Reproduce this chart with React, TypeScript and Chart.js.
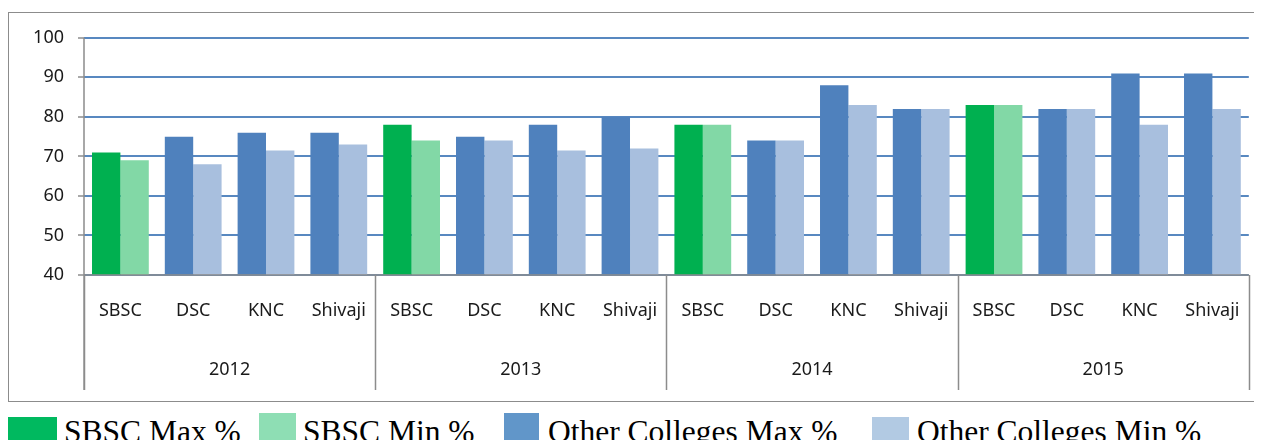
import React, { useEffect, useRef } from 'react';
import { Chart, registerables } from 'chart.js';

Chart.register(...registerables);

const years = ['2012', '2013', '2014', '2015'];
const colleges = ['SBSC', 'DSC', 'KNC', 'Shivaji'];
const sbscMax = [71, 78, 78, 83];
const sbscMin = [69, 74, 78, 83];
const dscMax = [75, 75, 74, 82];
const dscMin = [68, 74, 74, 82];
const kncMax = [76, 78, 88, 91];
const kncMin = [71.5, 71.5, 83, 78];
const shivajiMax = [76, 80, 82, 91];
const shivajiMin = [73, 72, 82, 82];
const yTicks = [40, 50, 60, 70, 80, 90, 100];
const legendLabels = ['SBSC Max %', 'SBSC Min %', 'Other Colleges Max %', 'Other Colleges Min %'];

const barColors = ['#00B050', '#82D8A6', '#4F81BD', '#A8BFDE'];
const legendColors = ['#00B95F', '#8EDEB4', '#6196C9', '#B2CAE3'];

const categoryLabels: string[] = [];
years.forEach(() => colleges.forEach((c) => categoryLabels.push(c)));

function sbscSeries(vals: number[]) {
  const out: (number | null)[] = [];
  years.forEach((_, i) => out.push(vals[i], null, null, null));
  return out;
}
function otherSeries(a: number[], b: number[], c: number[]) {
  const out: (number | null)[] = [];
  years.forEach((_, i) => out.push(null, a[i], b[i], c[i]));
  return out;
}

const AXIS_GRAY = '#8c8c8c';

const separatorPlugin = {
  id: 'separators',
  afterDraw(chart: any) {
    const { ctx, chartArea } = chart;
    const x = chart.scales.x;
    const step = x.getPixelForValue(1) - x.getPixelForValue(0);
    const bottom = chart.height - 11;
    ctx.save();
    ctx.strokeStyle = AXIS_GRAY;
    ctx.lineWidth = 1.5;
    ctx.beginPath();
    ctx.moveTo(chartArea.left, chartArea.bottom);
    ctx.lineTo(chartArea.right, chartArea.bottom);
    ctx.moveTo(chartArea.left, chartArea.top);
    ctx.lineTo(chartArea.left, bottom);
    for (let i = 0; i <= years.length; i++) {
      const px = Math.round(x.getPixelForValue(i * colleges.length) - step / 2) + 0.5;
      ctx.moveTo(px, chartArea.bottom);
      ctx.lineTo(px, bottom);
    }
    ctx.stroke();
    ctx.restore();
  },
};

function ChartBox() {
  const ref = useRef<HTMLCanvasElement>(null);
  useEffect(() => {
    if (!ref.current) return;
    const font = { family: '"Noto Sans", sans-serif', size: 18 };
    const chart = new Chart(ref.current, {
      type: 'bar',
      data: {
        labels: categoryLabels,
        datasets: [
          { label: legendLabels[0], data: sbscSeries(sbscMax), backgroundColor: barColors[0], stack: 'max' },
          { label: legendLabels[1], data: sbscSeries(sbscMin), backgroundColor: barColors[1], stack: 'min' },
          { label: legendLabels[2], data: otherSeries(dscMax, kncMax, shivajiMax), backgroundColor: barColors[2], stack: 'max' },
          { label: legendLabels[3], data: otherSeries(dscMin, kncMin, shivajiMin), backgroundColor: barColors[3], stack: 'min' },
        ],
      },
      options: {
        animation: false,
        responsive: false,
        maintainAspectRatio: false,
        events: [],
        categoryPercentage: 0.78,
        barPercentage: 1,
        layout: { padding: { top: 22, right: 16, left: 0, bottom: 0 } },
        plugins: { legend: { display: false }, tooltip: { enabled: false } },
        scales: {
          y: {
            min: 40,
            max: 100,
            z: 1,
            afterFit: (s: any) => { s.width = 75; },
            afterBuildTicks: (s: any) => { s.ticks = yTicks.map((v) => ({ value: v })); },
            ticks: { font, color: '#1a1a1a', padding: 14 },
            grid: {
              color: 'rgba(74,126,187,0.92)',
              lineWidth: 2,
              tickColor: AXIS_GRAY,
              tickLength: 6,
              tickWidth: 1.5,
            },
            border: { display: false },
          },
          x: {
            type: 'category',
            position: 'bottom',
            afterFit: (s: any) => { s.height = 60; },
            ticks: { font, color: '#1a1a1a', padding: 25, autoSkip: false, maxRotation: 0 },
            grid: { display: false, drawTicks: false },
            border: { display: false },
          },
          x2: {
            type: 'category',
            position: 'bottom',
            labels: years,
            afterFit: (s: any) => { s.height = 66; },
            ticks: { font, color: '#1a1a1a', padding: 24, autoSkip: false, maxRotation: 0 },
            grid: { display: false, drawTicks: false },
            border: { display: false },
          },
        },
      } as any,
      plugins: [separatorPlugin],
    });
    return () => chart.destroy();
  }, []);
  return <canvas ref={ref} width={1256} height={388} style={{ position: 'absolute', left: 0, top: 0, width: 1256, height: 388 }} />;
}

const legendItems = [
  { sw: [0, 409, 49, 29], tx: 56 },
  { sw: [251, 405, 37, 33], tx: 295 },
  { sw: [496, 405, 35, 31], tx: 540 },
  { sw: [864, 409, 37, 29], tx: 909 },
];

export default function App() {
  useEffect(() => {
    const prev = document.documentElement.style.overflow;
    document.documentElement.style.overflow = 'hidden';
    return () => { document.documentElement.style.overflow = prev; };
  }, []);
  return (
    <div style={{ position: 'relative', marginRight: -8, height: 432, overflowX: 'clip' as any }}>
      <div
        style={{
          position: 'absolute',
          left: 0,
          top: 4,
          width: 1256,
          height: 388,
          border: `1px solid ${AXIS_GRAY}`,
        }}
      >
        <ChartBox />
      </div>
      {legendItems.map((it, i) => (
        <React.Fragment key={i}>
          <div
            style={{
              position: 'absolute',
              left: it.sw[0],
              top: it.sw[1],
              width: it.sw[2],
              height: it.sw[3],
              background: legendColors[i],
            }}
          />
          <div
            style={{
              position: 'absolute',
              left: it.tx,
              top: 408,
              fontFamily: '"Liberation Serif", "Times New Roman", serif',
              fontSize: 31.5,
              lineHeight: '31.5px',
              color: '#000',
              whiteSpace: 'nowrap',
            }}
          >
            {legendLabels[i]}
          </div>
        </React.Fragment>
      ))}
    </div>
  );
}
